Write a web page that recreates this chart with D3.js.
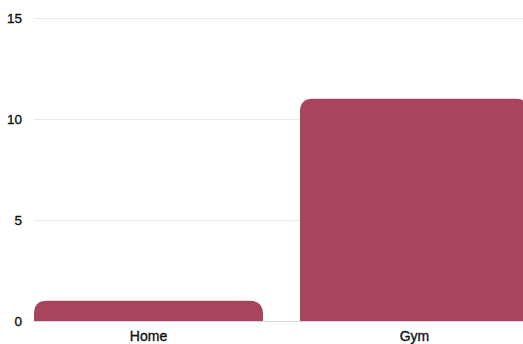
<!DOCTYPE html>
<html>
<head>
<meta charset="utf-8" />
<script src="https://cdn.jsdelivr.net/npm/d3@7"></script>
<style>
body { margin: 0; background: #fff; }
.tick text { font-family: "Liberation Sans", Arial, sans-serif; fill: #111; stroke: #111; stroke-width: 0.35px; }
</style>
</head>
<body>
<div id="chart"></div>
<script>
var categories = ["Home", "Gym"];
var values = [1, 11];
var yTicks = [0, 5, 10, 15];

var w = 523, h = 344;
var x0 = 34, x1 = 529, yTop = 18, yBase = 321;

var svg = d3.select("#chart").append("svg")
  .attr("width", w).attr("height", h);

var x = d3.scaleBand().domain(categories).range([x0, x1])
  .paddingInner(0.139).paddingOuter(0);
var y = d3.scaleLinear().domain([0, 15]).range([yBase, yTop]);

// grid
svg.append("g").selectAll("line")
  .data(yTicks).enter().append("line")
  .attr("x1", x0).attr("x2", w)
  .attr("y1", function(d) { return y(d) + 0.5; })
  .attr("y2", function(d) { return y(d) + 0.5; })
  .attr("stroke", function(d) { return d === 0 ? "#d6d6d6" : "#e8e8e8"; })
  .attr("stroke-width", 1);

// y axis labels
var yAxis = svg.append("g")
  .attr("transform", "translate(22,0)")
  .call(d3.axisLeft(y).tickValues(yTicks).tickSize(0).tickPadding(0));
yAxis.select(".domain").remove();
yAxis.selectAll("text").attr("font-size", 13.5);

// bars with rounded top corners
function barPath(d, i) {
  var bx = x(d.cat), bw = x.bandwidth();
  var top = y(d.val), bot = y(0);
  var r = Math.min(13, bot - top, bw / 2);
  return "M" + bx + "," + bot +
    "V" + (top + r) +
    "Q" + bx + "," + top + " " + (bx + r) + "," + top +
    "H" + (bx + bw - r) +
    "Q" + (bx + bw) + "," + top + " " + (bx + bw) + "," + (top + r) +
    "V" + bot + "Z";
}

var data = categories.map(function(c, i) { return { cat: c, val: values[i] }; });

svg.append("g").selectAll("path")
  .data(data).enter().append("path")
  .attr("d", barPath)
  .attr("fill", "#a9445f");

// x axis labels
var xAxis = svg.append("g")
  .attr("transform", "translate(0," + yBase + ")")
  .call(d3.axisBottom(x).tickSize(0).tickPadding(10));
xAxis.select(".domain").remove();
xAxis.selectAll("text").attr("font-size", 14);
</script>
</body>
</html>
